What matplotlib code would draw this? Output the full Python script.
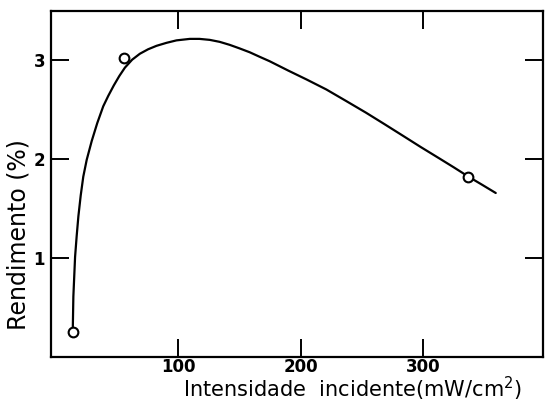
import matplotlib
matplotlib.use("Agg")
import matplotlib.pyplot as plt

# measured points (circles)
pts_x = [14.0, 56.0, 337.0]
pts_y = [0.25, 3.02, 1.815]

# curve
curve_x = [14.0, 14.5, 15.9, 17.2, 18.6, 20.5, 22.6, 25.4, 29.5, 34.0, 38.9,
           43.0, 47.5, 52.0, 56.6, 62.5, 68.8, 75.5, 82.4, 90.5, 98.7, 109.6,
           117.5, 125.9, 134.0, 142.1, 150.0, 158.5, 166.5, 174.7, 190.0,
           205.0, 221.0, 237.0, 253.5, 268.5, 283.3, 298.0, 313.2, 325.0,
           337.1, 348.0, 359.4]
curve_y = [0.26, 0.61, 1.01, 1.22, 1.42, 1.63, 1.82, 1.99, 2.18, 2.36, 2.53,
           2.635, 2.74, 2.835, 2.92, 3.00, 3.06, 3.105, 3.14, 3.17, 3.195, 3.21,
           3.21, 3.20, 3.18, 3.15, 3.115, 3.075, 3.03, 2.985, 2.89,
           2.80, 2.70, 2.585, 2.465, 2.35, 2.235, 2.12, 2.005, 1.915,
           1.82, 1.74, 1.655]

xticks = [100, 200, 300]
yticks = [1, 2, 3]

fig = plt.figure(figsize=(5.47, 4.05), dpi=100)
ax = fig.add_axes([0.0927, 0.1185, 0.9, 0.854])

ax.plot(curve_x, curve_y, color="black", lw=1.6, solid_joinstyle="round",
        solid_capstyle="round")
ax.plot(pts_x, pts_y, "o", ms=7, mfc="white", mec="black", mew=1.5)

ax.set_xlim(-4, 398)
ax.set_ylim(0, 3.49)
ax.set_xticks(xticks)
ax.set_yticks(yticks)
ax.tick_params(direction="in", length=13, width=1.4, top=True, right=True,
               labelsize=12)
ax.tick_params(axis="y", pad=4)
ax.tick_params(axis="x", pad=1)
for lab in ax.get_xticklabels() + ax.get_yticklabels():
    lab.set_fontweight("bold")
for s in ax.spines.values():
    s.set_linewidth(1.6)

fig.text(0.645, 0.005, "Intensidade  incidente(mW/cm$^2$)", ha="center",
         va="bottom", fontsize=15)
fig.text(0.033, 0.422, "Rendimento (%)", rotation=90, ha="center", va="center",
         fontsize=17)

fig.savefig("out.png", dpi=100)
